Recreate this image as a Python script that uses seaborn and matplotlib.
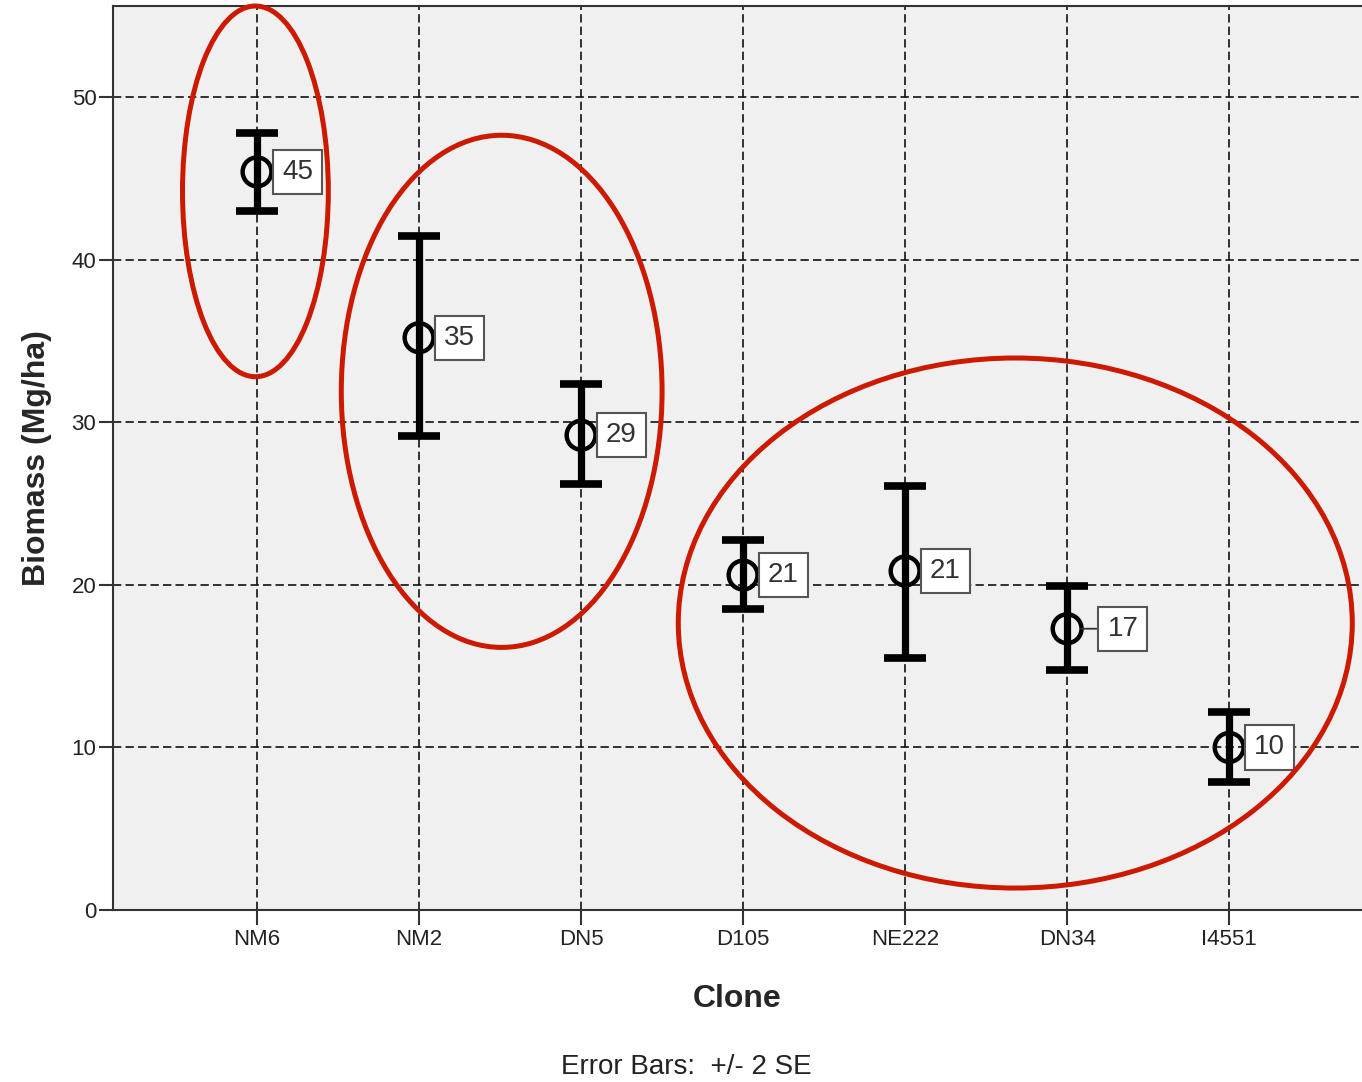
import seaborn as sns
import matplotlib.pyplot as plt
import pandas as pd
from matplotlib.patches import Ellipse

# data
clones = ["NM6", "NM2", "DN5", "D105", "NE222", "DN34", "I4551"]
biomass = [45.4, 35.2, 29.2, 20.6, 20.85, 17.3, 10.0]
upper = [47.8, 41.45, 32.35, 22.75, 26.1, 19.9, 12.2]
lower = [43.0, 29.15, 26.2, 18.5, 15.5, 14.75, 7.9]

# groups circled in red: centre (category index, biomass), width, height
group_x = [-0.01, 1.51, 4.68]
group_y = [44.2, 31.9, 17.65]
group_w = [0.9, 1.98, 4.16]
group_h = [22.8, 31.5, 32.6]

# label offsets (points) -- DN34 label sits further out with a leader line
label_dx = [17, 17, 17, 17, 17, 28, 17]

df = pd.DataFrame({"Clone": clones, "Biomass": biomass,
                   "upper": upper, "lower": lower})

sns.set_theme(style="whitegrid", rc={
    "axes.facecolor": "#f0f0f0",
    "axes.edgecolor": "#333333",
    "axes.linewidth": 1.5,
    "grid.color": "#111111",
    "grid.linestyle": (0, (5, 2.5)),
    "grid.linewidth": 1.2,
    "xtick.bottom": True,
    "ytick.left": True,
})
plt.rcParams["font.family"] = ["Liberation Sans", "DejaVu Sans"]

fig = plt.figure(figsize=(13.62, 10.82), dpi=100)
ax = fig.add_axes([113 / 1362, 172 / 1082, 1 - 113 / 1362, (910 - 6) / 1082])

ax.errorbar(df["Clone"], df["Biomass"],
            yerr=[df["Biomass"] - df["lower"], df["upper"] - df["Biomass"]],
            fmt="none", ecolor="black", elinewidth=5.2, capsize=15, capthick=5.5,
            zorder=3)
sns.scatterplot(data=df, x="Clone", y="Biomass", ax=ax, marker="o", s=430,
                facecolor="none", edgecolor="black", linewidth=3.2, zorder=4)

for i, (v, dx) in enumerate(zip(df["Biomass"], label_dx)):
    arrow = None
    if dx > 20:
        arrow = dict(arrowstyle="-", color="#333333", lw=1.3,
                     shrinkA=0, shrinkB=10)
    ax.annotate(f"{v:.0f}", xy=(i, v), xytext=(dx + 1, 0),
                textcoords="offset points", ha="left", va="center",
                fontsize=20, color="#333333", zorder=5,
                bbox=dict(boxstyle="square,pad=0.33", fc="white",
                          ec="#555555", lw=1.5),
                arrowprops=arrow)

for cx, cy, w, h in zip(group_x, group_y, group_w, group_h):
    ax.add_patch(Ellipse((cx, cy), w, h, fill=False, ec="#cc1a00",
                         lw=3.6, zorder=6, clip_on=False))

ax.set_xlim(-0.889, 6.82)
ax.set_ylim(0, 55.6)
ax.set_yticks([0, 10, 20, 30, 40, 50])
ax.grid(True, zorder=1)
ax.set_axisbelow(True)
ax.spines["right"].set_visible(False)

ax.tick_params(axis="x", length=11, width=1.5, color="#333333",
               labelsize=16, labelcolor="#222222", pad=3)
ax.tick_params(axis="y", length=10, width=1.5, color="#333333",
               labelsize=16, labelcolor="#222222", pad=2)

ax.set_xlabel("Clone", fontsize=23, fontweight="bold", labelpad=24)
ax.set_ylabel("Biomass (Mg/ha)", fontsize=23, fontweight="bold", labelpad=14)

fig.text(0.504, 0.014, "Error Bars:  +/- 2 SE", ha="center", va="center",
         fontsize=20, color="#222222")

fig.savefig("out.png", dpi=100)
